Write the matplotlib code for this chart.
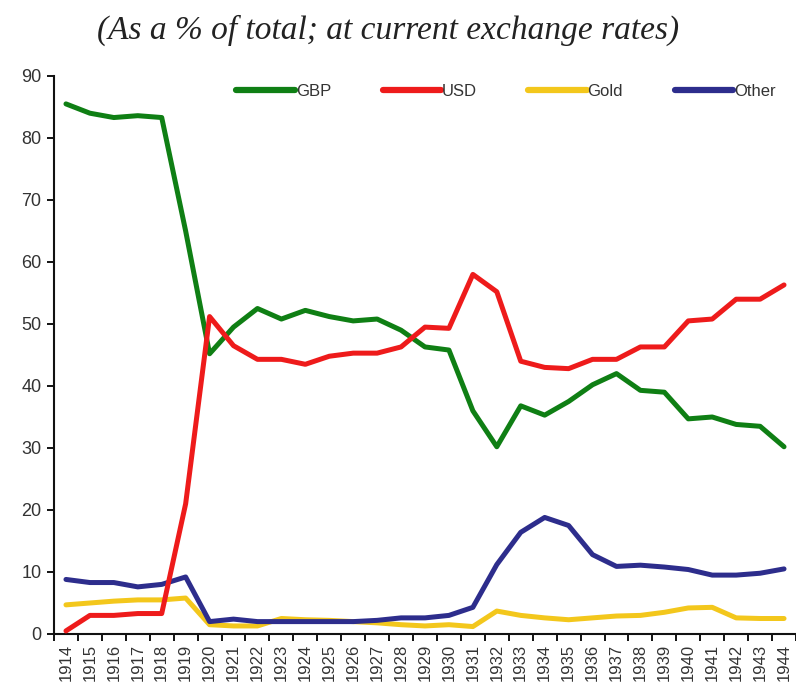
import matplotlib
matplotlib.use("Agg")
import matplotlib.pyplot as plt
import numpy as np

years = [str(y) for y in range(1914, 1945)]

gbp = [85.5, 84.0, 83.3, 83.6, 83.3, 65.0, 45.2, 49.5, 52.5, 50.8, 52.2, 51.2, 50.5, 50.8,
       49.0, 46.3, 45.8, 36.0, 30.2, 36.8, 35.3, 37.5, 40.2, 42.0, 39.3, 39.0, 34.7, 35.0,
       33.8, 33.5, 30.2]
usd = [0.5, 3.0, 3.0, 3.3, 3.3, 21.0, 51.2, 46.5, 44.3, 44.3, 43.5, 44.8, 45.3, 45.3,
       46.3, 49.5, 49.3, 58.0, 55.2, 44.0, 43.0, 42.8, 44.3, 44.3, 46.3, 46.3, 50.5, 50.8,
       54.0, 54.0, 56.3]
gold = [4.7, 5.0, 5.3, 5.5, 5.5, 5.8, 1.5, 1.3, 1.3, 2.5, 2.3, 2.2, 2.0, 1.8,
        1.5, 1.3, 1.5, 1.2, 3.7, 3.0, 2.6, 2.3, 2.6, 2.9, 3.0, 3.5, 4.2, 4.3,
        2.6, 2.5, 2.5]
other = [8.8, 8.3, 8.3, 7.6, 8.0, 9.2, 2.0, 2.4, 2.0, 2.0, 2.0, 2.0, 2.0, 2.2,
         2.6, 2.6, 3.0, 4.3, 11.2, 16.4, 18.8, 17.5, 12.8, 10.9, 11.1, 10.8, 10.4, 9.5,
         9.5, 9.8, 10.5]

series = [("GBP", gbp, "#0f7f14", 1),
          ("USD", usd, "#ee1b1b", 4),
          ("Gold", gold, "#f3c71c", 2),
          ("Other", other, "#2d2d8c", 3)]

W, H = 796, 698
fig = plt.figure(figsize=(W / 100, H / 100), dpi=100)
left, right, bottom, top = 54, 796, 634, 76
ax = fig.add_axes([left / W, 1 - bottom / H, (right - left) / W, (bottom - top) / H])

x = np.arange(len(years))
handles = []
for name, vals, col, z in series:
    ln, = ax.plot(x, vals, color=col, lw=3.6, label=name, zorder=z,
                  solid_capstyle="round", solid_joinstyle="round")
    handles.append(ln)

ax.set_xlim(-0.5, len(years) - 0.5)
ax.set_ylim(0, 90)
ax.set_yticks(range(0, 91, 10))
ax.tick_params(axis="y", direction="out", length=5, width=1.3, labelsize=13,
               labelcolor="#333333", pad=4)
ax.set_xticks(x)
ax.set_xticklabels(years, rotation=90, fontsize=12, color="#333333")
ax.tick_params(axis="x", which="major", length=0, pad=7)
ax.set_xticks(np.arange(-0.5, len(years), 1.0), minor=True)
ax.tick_params(axis="x", which="minor", direction="out", length=5, width=1.3)

for s in ["top", "right"]:
    ax.spines[s].set_visible(False)
for s in ["left", "bottom"]:
    ax.spines[s].set_linewidth(1.5)
    ax.spines[s].set_color("#111111")

for t in ax.get_yticklabels() + ax.get_xticklabels():
    t.set_family(["Liberation Sans", "DejaVu Sans"])

leg = ax.legend(handles=handles, ncol=4, loc="center",
                bbox_to_anchor=((506 - left) / (right - left), (bottom - 91) / (bottom - top)),
                frameon=False, handlelength=3.5, handletextpad=0.05, columnspacing=3.1,
                prop={"family": ["Liberation Sans", "DejaVu Sans"], "size": 12})
for t in leg.get_texts():
    t.set_color("#333333")
for lh in leg.get_lines():
    lh.set_linewidth(4.5)

fig.text(388 / W, 1 - 30 / H, "(As a % of total; at current exchange rates)",
         ha="center", va="center", fontsize=24, style="italic",
         family=["Liberation Serif", "DejaVu Serif"], color="#222222")

fig.savefig("out.png", dpi=100)
